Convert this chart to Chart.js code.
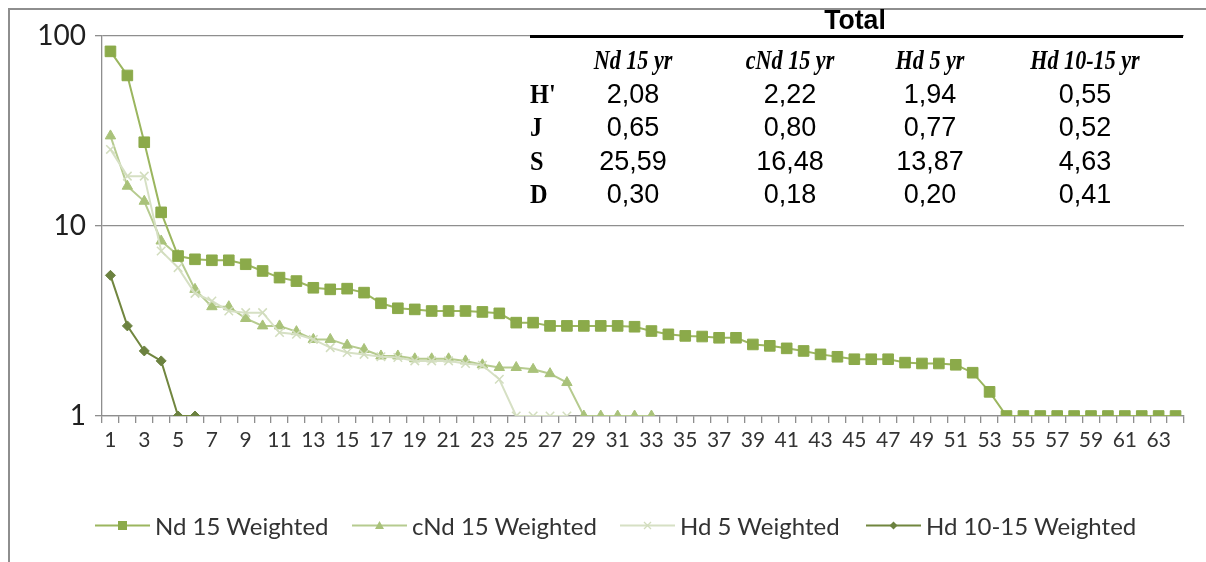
<!DOCTYPE html>
<html><head><meta charset="utf-8">
<script src="https://cdn.jsdelivr.net/npm/chart.js@4.4.1/dist/chart.umd.min.js"></script>
<style>
html,body{margin:0;padding:0;background:#fff;}
#wrap{position:relative;width:1206px;height:562px;overflow:hidden;background:#fff;}
#frame{position:absolute;left:8px;top:8px;width:1300px;height:700px;border-top:2px solid #8e8e8e;border-left:2px solid #8e8e8e;box-sizing:border-box;}
#c{position:absolute;left:0;top:0;}
.cell{position:absolute;transform:translate(-50%,-50%);white-space:nowrap;color:#000;}
.val{font-family:"Liberation Sans",Arial,sans-serif;font-size:27px;}
.hdr{font-family:"Liberation Serif","DejaVu Serif",serif;font-weight:bold;font-style:italic;font-size:27px;transform:translate(-50%,-50%) scaleX(0.82);}
.rowl{font-family:"Liberation Serif","DejaVu Serif",serif;font-weight:bold;font-size:27px;transform:translate(0,-50%) scaleX(0.9);transform-origin:left center;}
#total{font-family:"Liberation Sans",Arial,sans-serif;font-weight:bold;font-size:28px;transform:translate(-50%,-50%) scaleX(0.95);}
#rule{position:absolute;left:530px;top:35px;width:653px;height:3px;background:#000;}
.leg{position:absolute;top:512px;height:26px;display:flex;align-items:center;font-family:Lato,"Open Sans",sans-serif;font-size:24px;color:#333;white-space:nowrap;}
.leg svg{margin-right:5px;}
</style></head>
<body>
<div id="wrap">
  <canvas id="c" width="1206" height="562"></canvas>
  <div id="frame"></div>
  <div id="rule"></div>
  <div id="tbl"></div>
  <div id="legend"></div>
</div>
<script>
// ---- data ----
const categories = ["1","2","3","4","5","6","7","8","9","10","11","12","13","14","15","16","17","18","19","20","21","22","23","24","25","26","27","28","29","30","31","32","33","34","35","36","37","38","39","40","41","42","43","44","45","46","47","48","49","50","51","52","53","54","55","56","57","58","59","60","61","62","63","64"];
const seriesNames = ["Nd 15 Weighted","cNd 15 Weighted","Hd 5 Weighted","Hd 10-15 Weighted"];
const nd15 = [83,62,27.6,11.8,6.95,6.68,6.6,6.6,6.29,5.8,5.35,5.13,4.73,4.64,4.68,4.46,3.92,3.69,3.64,3.57,3.57,3.57,3.53,3.47,3.1,3.1,2.98,2.98,2.98,2.98,2.98,2.95,2.8,2.69,2.64,2.62,2.58,2.58,2.38,2.34,2.27,2.2,2.11,2.05,1.99,1.99,1.99,1.91,1.89,1.89,1.86,1.69,1.34,1,1,1,1,1,1,1,1,1,1,1];
const cnd15 = [29.8,16.2,13.5,8.34,7.0,4.64,3.76,3.76,3.26,2.98,2.98,2.78,2.53,2.53,2.36,2.24,2.07,2.07,2.0,2.0,2.0,1.95,1.86,1.8,1.8,1.76,1.67,1.5,1,1,1,1,1];
const hd5 = [25.3,18.3,18.3,7.39,6.04,4.42,4.03,3.57,3.5,3.5,2.75,2.69,2.53,2.29,2.16,2.11,2.05,2.03,1.95,1.95,1.95,1.89,1.85,1.56,1,1,1,1];
const hd1015 = [5.5,2.98,2.2,1.95,1,1];
const yTickValues = [1,10,100];
// table
const tableTitle = "Total";
const tableCols = ["Nd 15 yr","cNd 15 yr","Hd 5 yr","Hd 10-15 yr"];
const tableRows = ["H'","J","S","D"];
const rowH = ["2,08","2,22","1,94","0,55"];
const rowJ = ["0,65","0,80","0,77","0,52"];
const rowS = ["25,59","16,48","13,87","4,63"];
const rowD = ["0,30","0,18","0,20","0,41"];

// ---- styles ----
const colors = ["#8BAA4A","#A9C27A","#D2DDBE","#6C8240"];
const lineColors = ["#9BB65F","#B6CB8F","#D6E0C4","#71863F"];
const shapes = ["rect","triangle","crossRot","rectRot"];
const radii = [7.5,6,6,5];
const allData = [nd15,cnd15,hd5,hd1015];

const datasets = allData.map((d,i)=>({
  label: seriesNames[i], data: d,
  borderColor: lineColors[i], backgroundColor: colors[i],
  pointBackgroundColor: colors[i], pointBorderColor: colors[i],
  pointStyle: shapes[i], pointRadius: radii[i], pointBorderWidth: i===2?1.5:1,
  borderWidth: 2, tension: 0, order: i===0?0:(4-i)
}));

const gridCol = "#8e8e8e";
new Chart(document.getElementById('c'), {
  type: 'line',
  data: { labels: categories, datasets },
  options: {
    responsive:false, animation:false, devicePixelRatio:1,
    layout:{padding:{left:0,top:36,right:22,bottom:0}},
    plugins:{legend:{display:false}, tooltip:{enabled:false}},
    scales:{
      x:{
        type:'category', offset:true,
        grid:{offset:true, drawOnChartArea:false, color:gridCol, lineWidth:1.3, tickLength:7},
        border:{color:gridCol, width:1.3},
        ticks:{autoSkip:false, maxRotation:0, minRotation:0, padding:5, color:'#333',
          font:{family:'Lato', size:21},
          callback:(v,i)=> i%2===0 ? categories[i] : ''},
        afterFit:(s)=>{s.height=146;}
      },
      y:{
        type:'logarithmic', min:1, max:100,
        afterBuildTicks:(s)=>{s.ticks = yTickValues.map(v=>({value:v}));},
        grid:{color:gridCol, lineWidth:1.3, tickLength:7},
        border:{color:gridCol, width:1.3},
        ticks:{padding:9, color:'#202020', font:{family:'Lato', size:28},
          callback:(v)=> String(v)},
        afterFit:(s)=>{s.width=102;}
      }
    }
  }
});

// ---- table overlay ----
const tbl = document.getElementById('tbl');
function cell(cls, txt, x, y){
  const d=document.createElement('div'); d.className='cell '+cls; d.textContent=txt;
  d.style.left=x+'px'; d.style.top=y+'px'; tbl.appendChild(d); return d;
}
const colX=[633,790,930,1085];
const t = cell('', tableTitle, 855, 20); t.id='total';
tableCols.forEach((c,i)=>cell('hdr',c,colX[i],60));
const rowY=[94,127,161,194];
const rowsData=[rowH,rowJ,rowS,rowD];
tableRows.forEach((r,j)=>{
  cell('rowl',r,530,rowY[j]);
  rowsData[j].forEach((v,i)=>cell('val',v,colX[i],rowY[j]));
});

// ---- legend overlay ----
const legend=document.getElementById('legend');
const legX=[95,352,620,866];
function symbol(i){
  const c=colors[i], lc=lineColors[i];
  let m='';
  if(i===0) m=`<rect x="23" y="9" width="9" height="9" fill="${c}"/>`;
  if(i===1) m=`<polygon points="27.5,9 32,17 23,17" fill="${c}"/>`;
  if(i===2) m=`<path d="M24 10 L31 17 M31 10 L24 17" stroke="${c}" stroke-width="1.3"/>`;
  if(i===3) m=`<polygon points="27.5,9.5 31.5,13.5 27.5,17.5 23.5,13.5" fill="${c}"/>`;
  return `<svg width="55" height="26" viewBox="0 0 55 26"><line x1="0" y1="13.5" x2="55" y2="13.5" stroke="${lc}" stroke-width="2"/>${m}</svg>`;
}
seriesNames.forEach((n,i)=>{
  const d=document.createElement('div'); d.className='leg'; d.style.left=legX[i]+'px';
  d.innerHTML=symbol(i)+'<span>'+n+'</span>'; legend.appendChild(d);
});
</script>
</body></html>
